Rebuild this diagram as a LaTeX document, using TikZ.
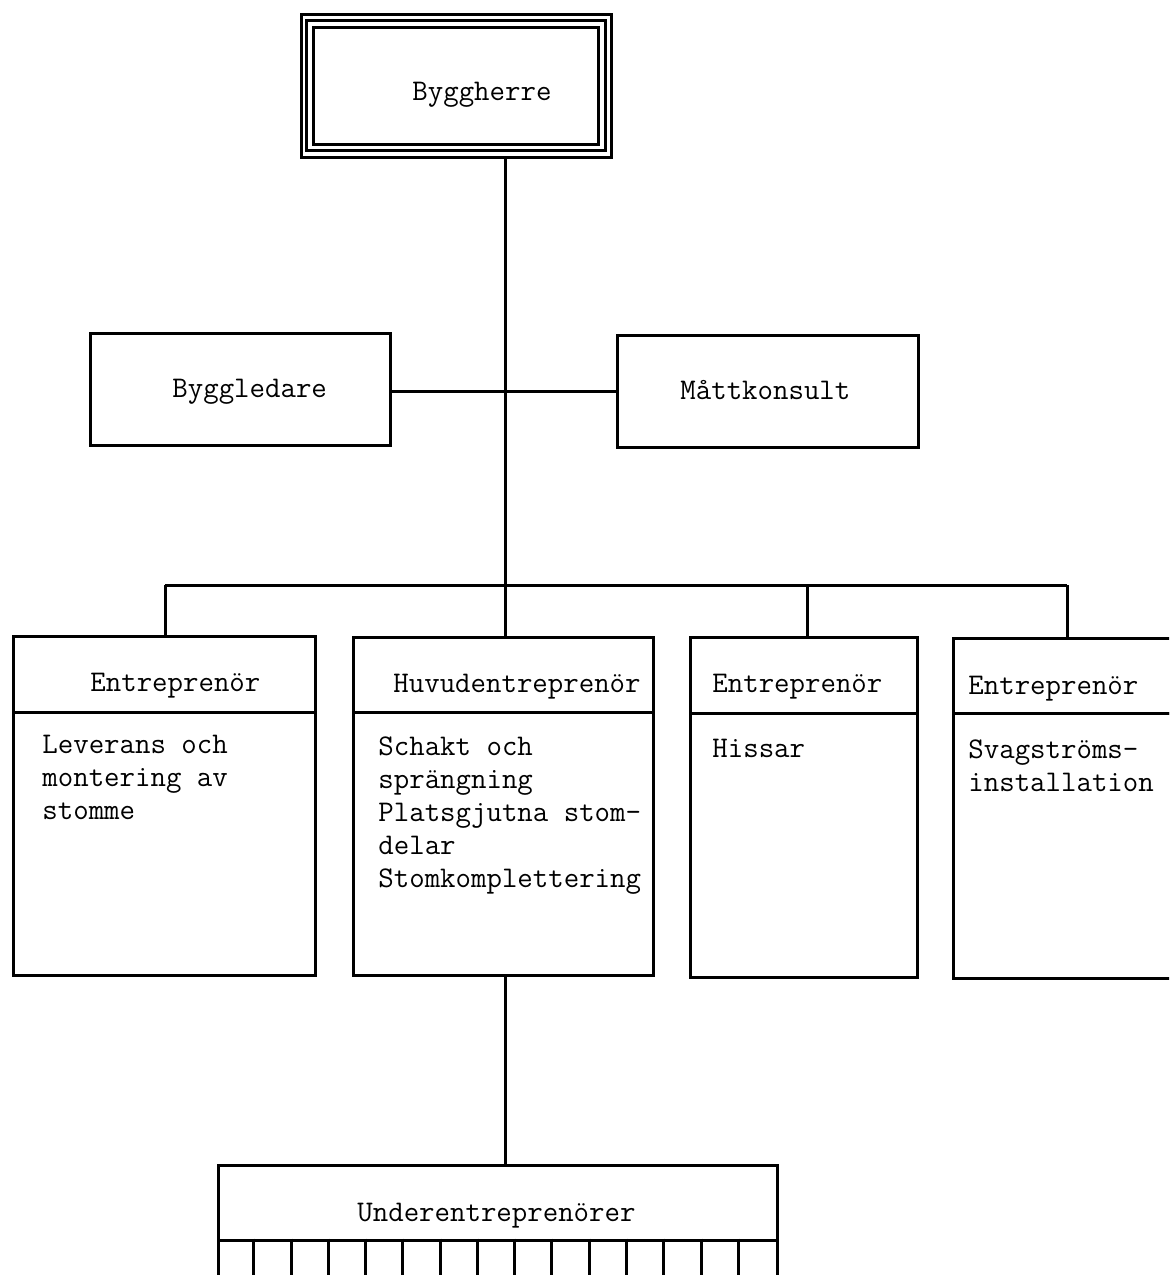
\documentclass[tikz,border=0pt]{standalone}
\usetikzlibrary{fit,calc}
\begin{document}
\begin{tikzpicture}[x=0.5pt,y=-0.5pt,
  frame/.style={draw, line width=1.5pt, inner sep=0pt, fit={#1}},
  wire/.style={line width=1.5pt},
  lbl/.style={inner sep=0pt, anchor=base west, font=\ttfamily\fontsize{15}{16.5}\selectfont}]
\useasboundingbox (0,0) rectangle (1169,1275);
\clip (0,0) rectangle (1169,1275);

% Byggherre (triple frame)
\node[frame={(301,14) (611,157)}] (bh) {};
\draw[wire] ($(bh.north west)+(7,8)$) rectangle ($(bh.south east)+(-7,-8)$);
\draw[wire] ($(bh.north west)+(14,15)$) rectangle ($(bh.south east)+(-14,-14)$);
\node[lbl] (tbh) at (412,100) {Byggherre};

% Byggledare / Måttkonsult
\node[frame={(90,333) (390,445)}] (bl) {};
\node[lbl] (tbl) at (172,397) {Byggledare};
\node[frame={(617,335) (918,447)}] (mk) {};
\node[lbl] (tmk) at (680,399) {Måttkonsult};

% bus coordinates
\coordinate (bus) at (505,585);
\coordinate (busL) at (165,585);
\coordinate (busR) at (1067,585);
\coordinate (d3) at (807,585);
\coordinate (mid) at (505,391);

% Entreprenör boxes
\node[frame={(13,636) (315,712)}] (h1) {};
\node[frame={(13,712) (315,975)}] (b1) {};
\node[frame={(353,637) (653,712)}] (h2) {};
\node[frame={(353,712) (653,975)}] (b2) {};
\node[frame={(690,637) (917,713)}] (h3) {};
\node[frame={(690,713) (917,977)}] (b3) {};
\node[frame={(953,638) (1181,713)}] (h4) {};
\node[frame={(953,713) (1181,978)}] (b4) {};

\node[lbl] (th1) at (90,691) {Entreprenör};
\node[lbl] (th2) at (393,692) {Huvudentreprenör};
\node[lbl] (th3) at (712,692) {Entreprenör};
\node[lbl] (th4) at (968,694) {Entreprenör};

\node[lbl] (tb1) at (42,753) {\vtop{\hbox{Leverans och}\hbox{montering av}\hbox{stomme}}};
\node[lbl] (tb2) at (378,755) {\vtop{\hbox{Schakt och}\hbox{sprängning}\hbox{Platsgjutna stom-}\hbox{delar}\hbox{Stomkomplettering}}};
\node[lbl] (tb3) at (712,757) {Hissar};
\node[lbl] (tb4) at (968,758) {\vtop{\hbox{Svagströms-}\hbox{installation}}};

% Underentreprenörer
\node[frame={(218,1165) (777,1240)}] (ue) {};
\node[lbl] (tue) at (357,1221) {Underentreprenörer};
\node[frame={(218,1240) (777,1300)}] (row) {};
\foreach \i in {1,...,14} {
  \draw[wire] ($(row.north west)+({\i*37.27},0)$) -- ($(row.south west)+({\i*37.27},0)$);
}

% connectors
\draw[wire] (bh.south -| bus) -- (bus);
\draw[wire] (mid -| bl.east) -- (mid -| mk.west);
\draw[wire] (busL) -- (busR);
\draw[wire] (busL) -- (busL |- h1.north);
\draw[wire] (bus) -- (bus |- h2.north);
\draw[wire] (d3) -- (d3 |- h3.north);
\draw[wire] (busR) -- (busR |- h4.north);
\draw[wire] (b2.south -| bus) -- (bus |- ue.north);
\end{tikzpicture}
\end{document}
